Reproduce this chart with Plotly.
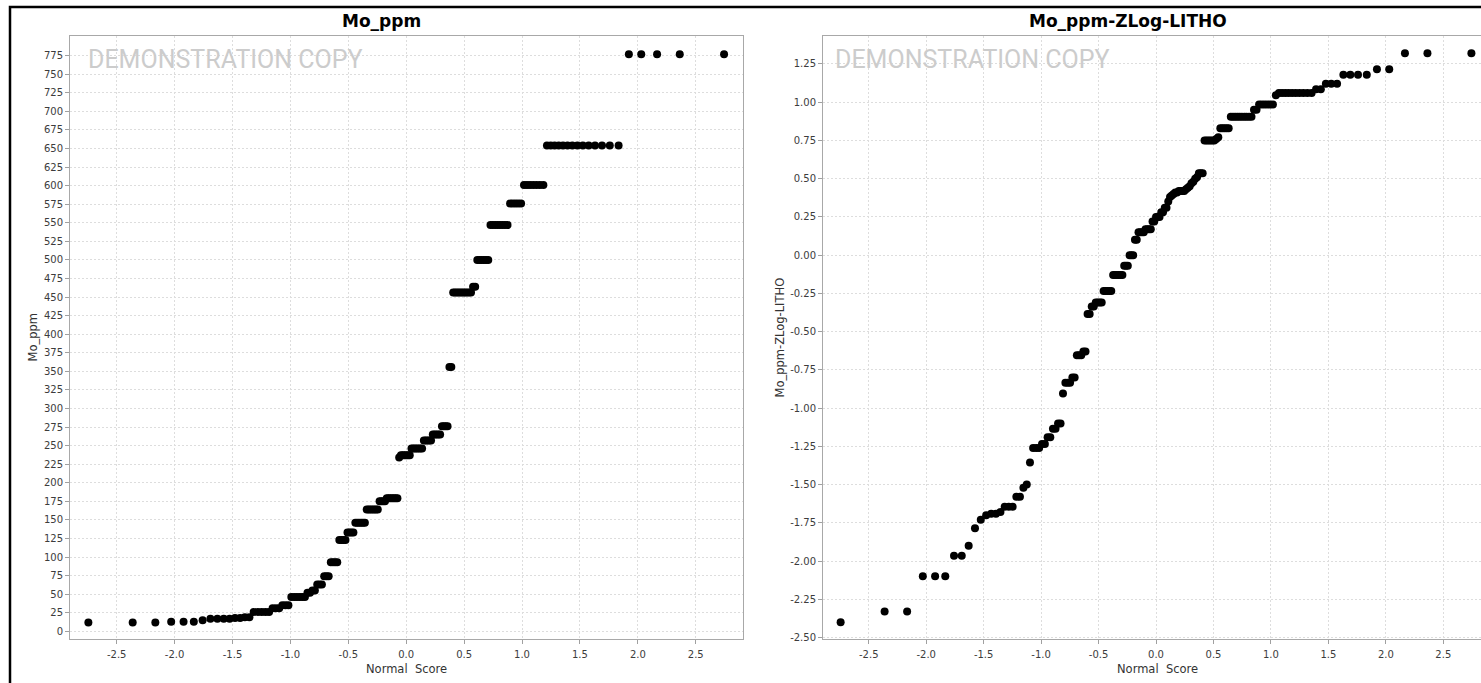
import plotly.graph_objects as go
from statistics import NormalDist

W, H = 1481, 683

# Mo_ppm: sorted sample values, given as (value, number of samples at that value)
mo_values = [12, 13, 15, 17, 18, 19, 26, 31, 35, 46, 52, 55, 63, 74, 93, 123, 133, 146,
             164, 175, 179, 234, 237, 246, 257, 265, 276, 356, 456, 464, 500, 547, 576,
             601, 654, 777]
mo_counts = [3, 3, 1, 4, 2, 2, 5, 3, 3, 6, 2, 2, 3, 3, 4, 4, 4, 6,
             7, 4, 7, 1, 6, 7, 5, 5, 4, 2, 10, 2, 6, 8, 5,
             7, 14, 5]

# Mo_ppm-ZLog-LITHO: sorted transformed values with counts
zlog_values = [-2.40, -2.33, -2.10, -1.965, -1.90, -1.785, -1.73, -1.70, -1.69, -1.68,
               -1.645, -1.58, -1.52, -1.50, -1.355, -1.26, -1.235, -1.19, -1.135, -1.10,
               -0.905, -0.835, -0.80, -0.655, -0.63, -0.385, -0.335, -0.31, -0.235, -0.13,
               -0.07, 0.00, 0.10, 0.15, 0.17, 0.22, 0.25, 0.28, 0.31, 0.35,
               0.38, 0.39, 0.40, 0.41, 0.42, 0.43, 0.44, 0.45, 0.47, 0.48,
               0.50, 0.51, 0.535, 0.75, 0.76, 0.77, 0.83, 0.905, 0.95, 0.985,
               1.045, 1.06, 1.085, 1.12, 1.18, 1.215, 1.32]
zlog_counts = [1, 2, 3, 2, 1, 1, 1, 1, 2, 1,
               3, 2, 1, 1, 1, 3, 2, 2, 2, 2,
               1, 3, 2, 3, 2, 2, 2, 4, 5, 6,
               3, 3, 2, 4, 4, 2, 3, 2, 2, 1,
               1, 1, 1, 2, 4, 1, 1, 1, 1, 1,
               1, 1, 3, 6, 1, 1, 5, 10, 2, 6,
               1, 10, 2, 3, 4, 2, 3]

x_ticks = [-2.5, -2.0, -1.5, -1.0, -0.5, 0.0, 0.5, 1.0, 1.5, 2.0, 2.5]
x_tick_labels = ["-2.5", "-2.0", "-1.5", "-1.0", "-0.5", "0.0", "0.5", "1.0", "1.5", "2.0", "2.5"]
mo_ticks = list(range(0, 800, 25))
mo_tick_labels = [str(v) for v in mo_ticks]
zlog_ticks = [-2.5, -2.25, -2.0, -1.75, -1.5, -1.25, -1.0, -0.75, -0.5, -0.25,
              0.0, 0.25, 0.5, 0.75, 1.0, 1.25]
zlog_tick_labels = ["-2.50", "-2.25", "-2.00", "-1.75", "-1.50", "-1.25", "-1.00", "-0.75",
                    "-0.50", "-0.25", "0.00", "0.25", "0.50", "0.75", "1.00", "1.25"]


def expand(values, counts):
    out = []
    for v, c in zip(values, counts):
        out.extend([v] * c)
    return out


def normal_scores(n):
    nd = NormalDist()
    return [nd.inv_cdf((i - 0.5) / n) for i in range(1, n + 1)]


def fx(p):
    return p / W


def fy(p):
    return 1 - p / H


mo = expand(mo_values, mo_counts)
zl = expand(zlog_values, zlog_counts)

fig = go.Figure()
marker = dict(color="black", size=8, line=dict(width=0))
fig.add_trace(go.Scatter(x=normal_scores(len(mo)), y=mo, mode="markers", marker=marker,
                         xaxis="x", yaxis="y", hoverinfo="x+y"))
fig.add_trace(go.Scatter(x=normal_scores(len(zl)), y=zl, mode="markers", marker=marker,
                         xaxis="x2", yaxis="y2", hoverinfo="x+y"))

tick_font = dict(family="DejaVu Sans", size=10, color="#3c3c3c")
common = dict(
    showgrid=True, gridcolor="#dddddd", gridwidth=1, griddash="2px,2px",
    zeroline=False, showline=True, linecolor="#a8a8a8", linewidth=1,
    ticks="outside", ticklen=4, tickcolor="#a0a0a0", tickwidth=1,
    tickfont=tick_font, tickmode="array", fixedrange=True,
)
ydom = [fy(643), fy(36)]

fig.update_layout(
    width=W, height=H,
    margin=dict(l=0, r=0, t=0, b=0),
    paper_bgcolor="white", plot_bgcolor="white",
    showlegend=False,
    xaxis=dict(common, domain=[fx(70), fx(743)], range=[-2.903, 2.908], mirror=True,
               tickvals=x_ticks, ticktext=x_tick_labels, anchor="y", ticklabelstandoff=2),
    yaxis=dict(common, domain=ydom, range=[-10.7, 801.8], mirror=True,
               tickvals=mo_ticks, ticktext=mo_tick_labels, anchor="x"),
    xaxis2=dict(common, domain=[fx(823), 1.0], range=[-2.898, 2.828], mirror=True,
                tickvals=x_ticks, ticktext=x_tick_labels, anchor="y2", ticklabelstandoff=2),
    yaxis2=dict(common, domain=ydom, range=[-2.511, 1.434], mirror=False,
                tickvals=zlog_ticks, ticktext=zlog_tick_labels, anchor="x2"),
)

# outer frame
fig.add_shape(type="rect", xref="paper", yref="paper",
              x0=fx(10), y0=fy(700), x1=fx(1510), y1=fy(7),
              line=dict(color="black", width=2.5), layer="above")

ann = []
title_font = dict(family="DejaVu Sans", size=17, color="black")
ann.append(dict(text="<b>Mo_ppm</b>", x=fx(381), y=fy(21), font=title_font))
ann.append(dict(text="<b>Mo_ppm-ZLog-LITHO</b>", x=fx(1127.5), y=fy(21), font=title_font))

label_font = dict(family="DejaVu Sans", size=11.5, color="#333333")
ann.append(dict(text="Normal  Score", x=fx(406.5), y=fy(672.5), font=label_font))
ann.append(dict(text="Normal  Score", x=fx(1157), y=fy(672.5), font=label_font))
ann.append(dict(text="Mo_ppm", x=fx(33), y=fy(339.5), font=label_font, textangle=-90))
ann.append(dict(text="Mo_ppm-ZLog-LITHO", x=fx(780), y=fy(339.5), font=label_font, textangle=-90))

wm_font = dict(family="Roboto", size=25, color="#cccccc")
ann.append(dict(text="DEMONSTRATION COPY", x=fx(86), y=fy(60), xanchor="left", font=wm_font))
ann.append(dict(text="DEMONSTRATION COPY", x=fx(833), y=fy(60), xanchor="left", font=wm_font))

for a in ann:
    a.setdefault("xanchor", "center")
    a.update(xref="paper", yref="paper", yanchor="middle", showarrow=False)
    fig.add_annotation(**a)

fig.write_html("out.html")
